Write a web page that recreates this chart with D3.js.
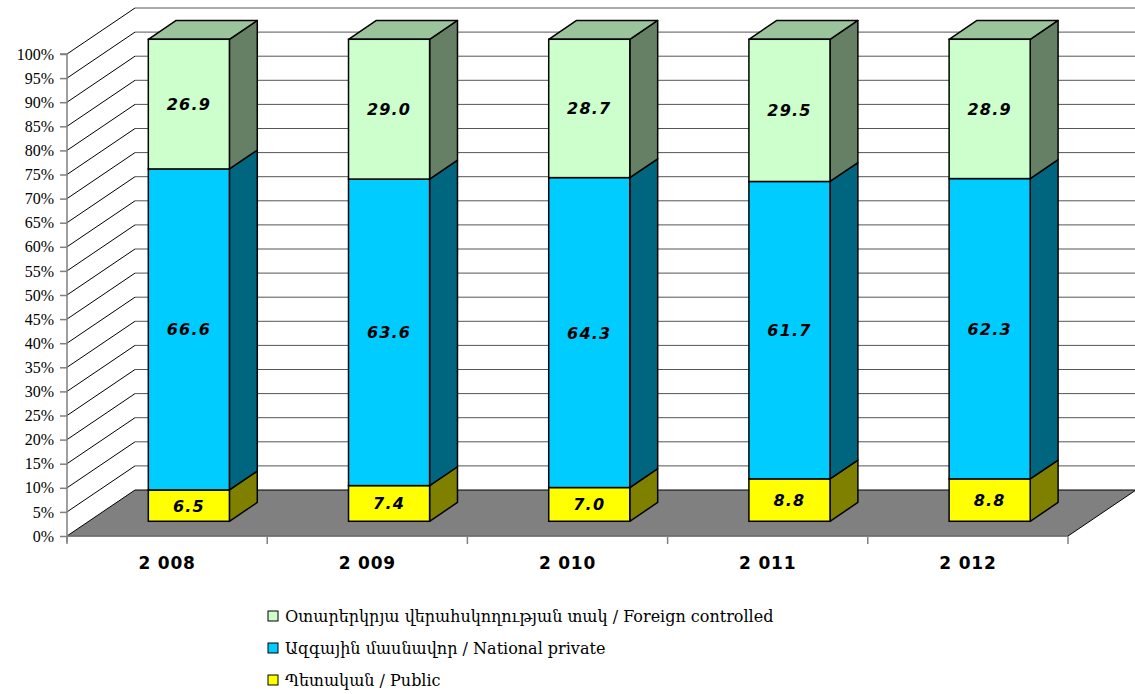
<!DOCTYPE html>
<html>
<head>
<meta charset="utf-8">
<script src="https://cdn.jsdelivr.net/npm/d3@7"></script>
<style>
  body { margin: 0; background: #fff; }
  svg { display: block; }
</style>
</head>
<body>
<svg width="1135" height="694"></svg>
<script>
// data
var years = ["2 008", "2 009", "2 010", "2 011", "2 012"];
var publicVals = [6.5, 7.4, 7.0, 8.8, 8.8];
var nationalVals = [66.6, 63.6, 64.3, 61.7, 62.3];
var foreignVals = [26.9, 29.0, 28.7, 29.5, 28.9];
var yTicks = d3.range(0, 101, 5);

var seriesNames = [
    "Օտարերկրյա վերահսկողության տակ / Foreign controlled",
    "Ազգային մասնավոր / National private",
    "Պետական / Public"
];

var serifFont = "'Liberation Serif', 'DejaVu Serif', serif";
var legendFont = "'DejaVu Serif', 'DejaVu Sans', serif";

var svg = d3.select("svg");

// 3d depth offset
var depthX = 68, depthY = -46;
var zFront = 0.32, zBack = 0.73;

var x = d3.scaleBand()
    .domain(years)
    .range([67, 1068])
    .paddingInner(0.595)
    .paddingOuter(0.2975);

var xSlot = d3.scaleBand().domain(years).range([67, 1068]);

var y = d3.scaleLinear().domain([0, 100]).range([536, 54]);

function pt(px, py, z) {
    return [px + z * depthX, py + z * depthY];
}
function poly(points) {
    return "M" + points.map(function (p) { return p[0] + "," + p[1]; }).join("L") + "Z";
}

// floor
var x0 = 67, x1 = 1068;
svg.append("path")
    .attr("d", poly([pt(x0, y(0), 0), pt(x1, y(0), 0), pt(x1, y(0), 1), pt(x0, y(0), 1)]))
    .attr("fill", "#808080")
    .attr("stroke", "#000")
    .attr("stroke-width", 1);

// gridlines: left wall diagonals + back wall lines
var grid = svg.append("g");
yTicks.forEach(function (t) {
    var a = pt(x0, y(t), 0), b = pt(x0, y(t), 1), c = pt(x1, y(t), 1);
    if (t > 0) {
        grid.append("line")
            .attr("x1", a[0]).attr("y1", a[1]).attr("x2", b[0]).attr("y2", b[1])
            .attr("stroke", "#000").attr("stroke-width", 1);
        grid.append("line")
            .attr("x1", b[0]).attr("y1", b[1]).attr("x2", c[0] + 2).attr("y2", c[1])
            .attr("stroke", "#555").attr("stroke-width", 1);
    }
});

// left axis
var yAxis = d3.axisLeft(y)
    .tickValues(yTicks)
    .tickSize(7)
    .tickPadding(6)
    .tickFormat(function (d) { return d + "%"; });
var yg = svg.append("g")
    .attr("transform", "translate(" + x0 + ",0)")
    .call(yAxis);
yg.select(".domain").attr("d", "M-7," + y(100) + "H0V" + (y(0) + 6)).attr("stroke", "#808080").attr("stroke-width", 1.5);
yg.selectAll(".tick line").attr("stroke", "#808080").attr("stroke-width", 1.5);
yg.selectAll("text")
    .attr("font-family", serifFont)
    .attr("font-size", 16)
    .attr("fill", "#000");

// bottom axis
var xg = svg.append("g");
xg.append("line")
    .attr("x1", x0).attr("x2", x1).attr("y1", y(0)).attr("y2", y(0))
    .attr("stroke", "#808080").attr("stroke-width", 1.5);
xSlot.domain().concat(["end"]).forEach(function (d, i) {
    var xx = i < years.length ? xSlot(d) : x1;
    xg.append("line")
        .attr("x1", xx).attr("x2", xx).attr("y1", y(0)).attr("y2", y(0) + 8)
        .attr("stroke", "#808080").attr("stroke-width", 1.5);
});
xg.selectAll("text.cat")
    .data(years)
    .enter().append("text")
    .attr("class", "cat")
    .attr("x", function (d) { return xSlot(d) + xSlot.bandwidth() / 2; })
    .attr("y", 569)
    .attr("text-anchor", "middle")
    .attr("font-family", "DejaVu Sans, sans-serif")
    .attr("font-weight", "bold")
    .attr("font-size", 17)
    .attr("letter-spacing", 0.8)
    .text(function (d) { return d; });

// bars
var series = [
    { vals: publicVals, front: "#FFFF00", side: "#808000", top: "#B3B300" },
    { vals: nationalVals, front: "#00CCFF", side: "#006680", top: "#0099BF" },
    { vals: foreignVals, front: "#CCFFCC", side: "#668066", top: "#9CC49C" }
];

var bars = svg.append("g");
years.forEach(function (yr, i) {
    var bx = x(yr), bw = x.bandwidth();
    var base = 0;
    series.forEach(function (s, k) {
        var v = s.vals[i];
        var lo = base, hi = base + v;
        var fx = bx + zFront * depthX, fy = zFront * depthY;
        var g = bars.append("g");
        // side face
        g.append("path")
            .attr("d", poly([
                pt(bx + bw, y(lo), zFront), pt(bx + bw, y(lo), zBack),
                pt(bx + bw, y(hi), zBack), pt(bx + bw, y(hi), zFront)
            ]))
            .attr("fill", s.side).attr("stroke", "#000").attr("stroke-width", 1.5)
            .attr("stroke-linejoin", "round");
        // top face only for top segment
        if (k === series.length - 1) {
            g.append("path")
                .attr("d", poly([
                    pt(bx, y(hi), zFront), pt(bx + bw, y(hi), zFront),
                    pt(bx + bw, y(hi), zBack), pt(bx, y(hi), zBack)
                ]))
                .attr("fill", s.top).attr("stroke", "#000").attr("stroke-width", 1.5)
                .attr("stroke-linejoin", "round");
        }
        // front face
        g.append("rect")
            .attr("x", fx).attr("y", y(hi) + fy)
            .attr("width", bw).attr("height", y(lo) - y(hi))
            .attr("fill", s.front).attr("stroke", "#000").attr("stroke-width", 1.5);
        // value label
        g.append("text")
            .attr("x", fx + bw / 2)
            .attr("y", (y(lo) + y(hi)) / 2 + fy + 6)
            .attr("text-anchor", "middle")
            .attr("font-family", "DejaVu Sans, sans-serif")
            .attr("font-weight", "bold")
            .attr("font-style", "italic")
            .attr("font-size", 16)
            .attr("letter-spacing", 1.2)
            .text(d3.format(".1f")(v));
        base = hi;
    });
});

// legend
var legColors = ["#CCFFCC", "#00CCFF", "#FFFF00"];
var leg = svg.append("g").attr("transform", "translate(268,0)");
seriesNames.forEach(function (name, i) {
    var ly = 616 + i * 32;
    leg.append("rect")
        .attr("x", 0).attr("y", ly - 5)
        .attr("width", 10).attr("height", 10)
        .attr("fill", legColors[i]).attr("stroke", "#000").attr("stroke-width", 1);
    leg.append("text")
        .attr("x", 17).attr("y", ly + 6)
        .attr("font-family", legendFont)
        .attr("font-size", 16)
        .text(name);
});
</script>
</body>
</html>
